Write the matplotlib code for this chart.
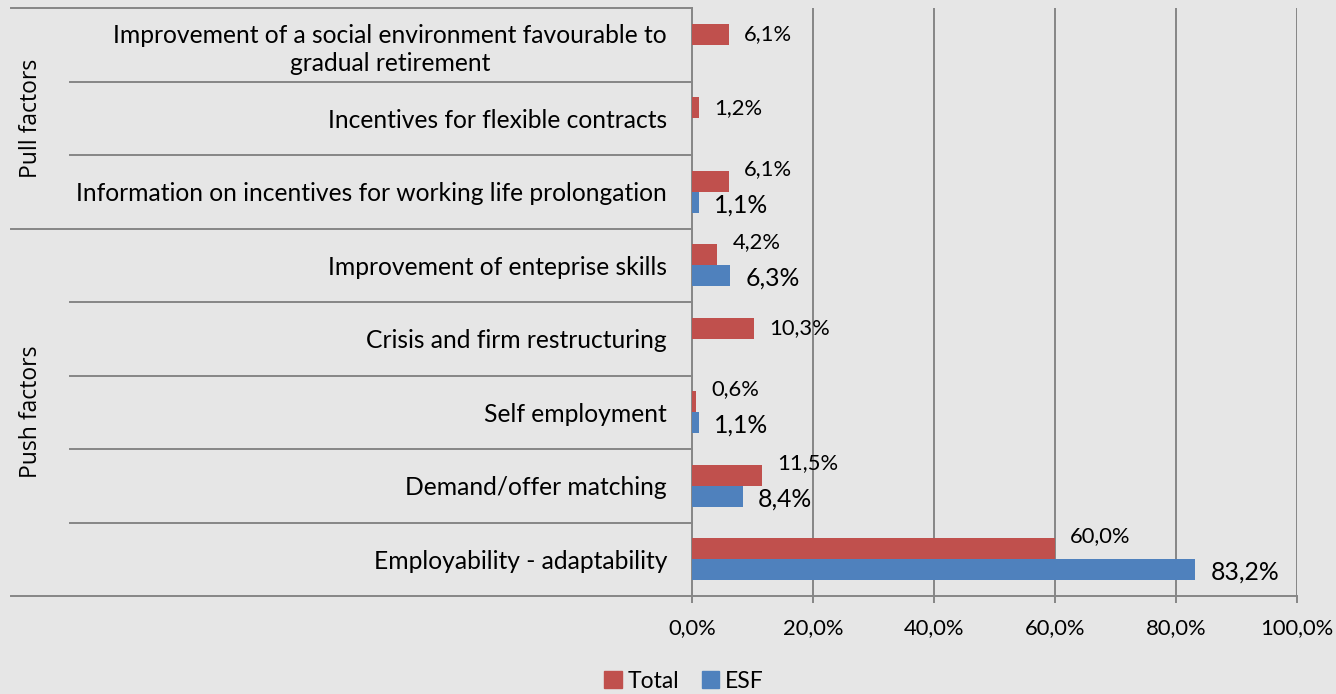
import numpy as np
import matplotlib
matplotlib.use("Agg")
import matplotlib.pyplot as plt
from matplotlib.patches import Patch
import matplotlib.transforms as mtransforms

# categorias e valores (%)
categorias = [
    "Improvement of a social environment favourable to\ngradual retirement",
    "Incentives for flexible contracts",
    "Information on incentives for working life prolongation",
    "Improvement of enteprise skills",
    "Crisis and firm restructuring",
    "Self employment",
    "Demand/offer matching",
    "Employability - adaptability",
]
total = [6.1, 1.2, 6.1, 4.2, 10.3, 0.6, 11.5, 60.0]
esf = [np.nan, np.nan, 1.1, 6.3, np.nan, 1.1, 8.4, 83.2]

grupos = ["Pull factors", "Push factors"]
tamanho_grupos = [3, 5]

xticks = [0, 20, 40, 60, 80, 100]

fundo = "#e6e6e6"
vermelho = "#c0504d"
azul = "#4f81bd"
cinza = "#868686"
fonte = ["Lato", "DejaVu Sans"]

W, H = 1336, 694
fig = plt.figure(figsize=(W / 100, H / 100), dpi=100, facecolor=fundo)
x0, x1, y0, y1 = 692, 1297, 8, 596
ax = fig.add_axes([x0 / W, 1 - y1 / H, (x1 - x0) / W, (y1 - y0) / H])
ax.set_facecolor(fundo)

n = len(categorias)
y = np.arange(n)
h = 0.286
ax.barh(y - h / 2, total, height=h, color=vermelho, zorder=3)
ax.barh(y + h / 2, esf, height=h, color=azul, zorder=3)

ax.set_xlim(0, 100)
ax.set_ylim(n - 0.5, -0.5)

# rotulos de dados
for i in range(n):
    par = not np.isnan(esf[i])
    dy = 9 if par else 0
    ax.annotate(f"{total[i]:.1f}%".replace(".", ","), (total[i], y[i] - h / 2),
                xytext=(11, dy), textcoords="offset points", va="center",
                ha="left", fontsize=15.8, family=fonte, zorder=4)
    if par:
        ax.annotate(f"{esf[i]:.1f}%".replace(".", ","), (esf[i], y[i] + h / 2),
                    xytext=(11, -2), textcoords="offset points", va="center",
                    ha="left", fontsize=17.8, family=fonte, zorder=4)

# grade vertical
for v in xticks[1:]:
    ax.axvline(v, color=cinza, lw=1.4, zorder=1)

for s in ["top", "right"]:
    ax.spines[s].set_visible(False)
for s in ["left", "bottom"]:
    ax.spines[s].set_color(cinza)
    ax.spines[s].set_linewidth(1.4)

ax.set_xticks(xticks)
ax.set_xticklabels([f"{v:.1f}%".replace(".", ",") for v in xticks],
                   fontsize=15.8, family=fonte)
ax.tick_params(axis="x", length=5, width=1.4, color=cinza, pad=11)

ax.set_yticks(y)
ax.set_yticklabels(categorias, fontsize=17.7, family=fonte)
ax.get_yticklabels()[0].set_multialignment("center")
ax.get_yticklabels()[0].set_linespacing(1.3)
ax.tick_params(axis="y", length=0, pad=18)

# linhas separadoras das categorias e grupos
trans = mtransforms.blended_transform_factory(ax.transAxes, ax.transData)
lim_grupo = [-0.5] + list(np.cumsum(tamanho_grupos) - 0.5)
for b in np.arange(-0.5, n, 1.0):
    xa = (11 - x0) / (x1 - x0) if b in lim_grupo else (70 - x0) / (x1 - x0)
    ax.plot([xa, 0], [b, b], transform=trans, color=cinza, lw=1.4,
            clip_on=False, zorder=2)

inicio = -0.5
for g, t in zip(grupos, tamanho_grupos):
    ax.text((31 - x0) / (x1 - x0), inicio + t / 2, g, transform=trans,
            rotation=90, ha="center", va="center", fontsize=16.5,
            family=["Open Sans", "DejaVu Sans"])
    inicio += t

handles = [Patch(color=vermelho, label="Total"), Patch(color=azul, label="ESF")]
fig.legend(handles=handles, loc="center", ncol=2,
           bbox_to_anchor=(684 / W, 1 - 681 / H), frameon=False,
           handlelength=0.75, handleheight=0.75, handletextpad=0.25,
           columnspacing=1.0, prop={"family": fonte, "size": 16.5})

fig.savefig("out.png", dpi=100, facecolor=fundo)
